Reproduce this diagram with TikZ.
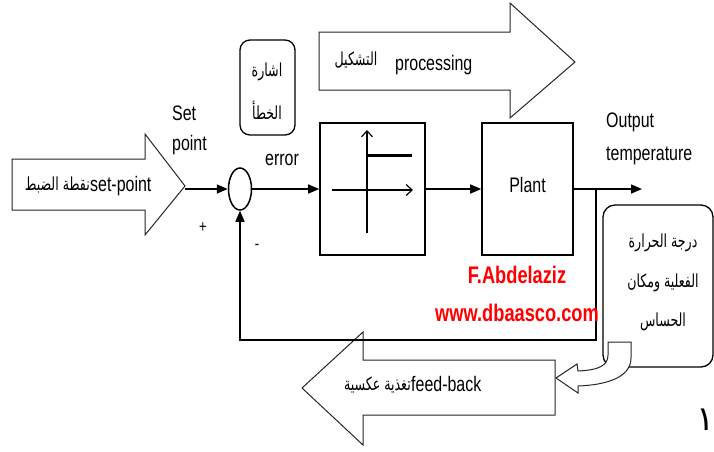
\documentclass[tikz,border=0pt]{standalone}
\usepackage{fontspec}
\setmainfont{Liberation Sans}[FakeStretch=0.76]
\newfontfamily\arfont[Script=Arabic,FakeStretch=0.7]{DejaVu Sans}
\newfontfamily\digitfont[Script=Arabic]{DejaVu Sans}
\TeXXeTstate=1
\usetikzlibrary{arrows.meta,shapes.geometric}
\tikzset{
  conn/.style={line width=1.5pt,-{Triangle[length=11pt,width=9pt]}},
  blockarrow/.style={draw=black!85,line width=1pt,fill=white,line join=miter},
  boxstyle/.style={draw,line width=1.6pt,inner sep=0},
  eng/.style={font=\fontsize{21}{25}\selectfont,inner sep=0},
  artext/.style={font=\arfont\fontsize{18}{20}\selectfont,inner sep=0},
  wm/.style={font=\fontsize{24}{28}\selectfont\bfseries,text=red,inner sep=0},
  sign/.style={font=\fontsize{17}{17}\selectfont,inner sep=0},
}
\begin{document}
\begin{tikzpicture}[x=1pt,y=-1pt]
\useasboundingbox (0,0) rectangle (714,451);
\fill[white] (0,0) rectangle (714,451);

% block arrows
\draw[blockarrow] (12,159) -- (145,159) -- (145,134) -- (185,186) -- (145,235) -- (145,210) -- (12,210) -- cycle;
\draw[blockarrow] (319,32) -- (510,32) -- (510,3) -- (575,62) -- (510,118) -- (510,90) -- (319,90) -- cycle;
\draw[blockarrow] (555,360) -- (363,360) -- (363,332) -- (302,388) -- (363,445) -- (363,415) -- (555,415) -- cycle;

% texts in block arrows
\node[artext,anchor=east] (spar) at (90,185) {\beginR نقطة الضبط\endR};
\node[eng,anchor=base west] (spen) at (spar.east |- 0,191) {set-point};
\node[artext] (procar) at (356,60) {\beginR التشكيل\endR};
\node[eng,anchor=base west] (procen) at (395,70) {processing};
\node[artext,anchor=east] (fbar) at (411,385) {\beginR تغذية عكسية\endR};
\node[eng,anchor=base west] (fben) at (fbar.east |- 0,391) {feed-back};

% sum junction and blocks
\coordinate (sptip) at (185,189);
\node[draw,ellipse,line width=1.5pt,minimum width=23pt,minimum height=42pt,inner sep=0] (sum) at (240,189) {};
\node[boxstyle,minimum width=105pt,minimum height=132pt] (ctrl) at (372.5,189) {};
\node[boxstyle,minimum width=91pt,minimum height=132pt] (plant) at (527.5,189) {};
\node[eng,anchor=base] (plantlbl) at (527.5,192) {Plant};

% controller symbol
\draw[line width=1.2pt,-{Straight Barb[length=6pt,width=11pt]}] (367,233) -- (367,130);
\draw[line width=1.2pt,-{Straight Barb[length=6pt,width=11pt]}] (332,190) -- (413,190);
\draw[line width=3pt] (367,155) -- (412,155);

% error box
\node[draw,rounded corners=10pt,line width=1.3pt,minimum width=55pt,minimum height=95pt] (errbox) at (267.5,87.5) {};
\node[artext] (err1) at (267,72) {\beginR اشارة\endR};
\node[artext] (err2) at (267,110) {\beginR الخطأ\endR};

% connectors
\coordinate (outend) at (642,189);
\coordinate (br) at (596,189);
\coordinate (fbc) at (240,340);
\draw[conn] (sptip) -- (sum.west);
\draw[conn] (sum.east) -- (ctrl.west);
\draw[conn] (ctrl.east) -- (plant.west);
\draw[conn] (plant.east) -- (outend);
\draw[conn] (br) |- (fbc) -- (sum.south);

% labels
\node[eng,anchor=base west] (setlbl) at (172,120) {Set};
\node[eng,anchor=base west] (pointlbl) at (172,150) {point};
\node[eng,anchor=base west] (errlbl) at (265,165) {error};
\node[eng,anchor=base west] (outlbl) at (606,127) {Output};
\node[eng,anchor=base west] (templbl) at (606,160) {temperature};
\node[sign] (plus) at (203,228) {+};
\node[sign] (minus) at (257,247) {-};

% sensor box
\node[draw,rounded corners=12pt,line width=1.3pt,minimum width=110pt,minimum height=162pt] (sensor) at (658,286) {};
\node[artext] (sen1) at (663,243) {\beginR درجة الحرارة\endR};
\node[artext] (sen2) at (663,283) {\beginR الفعلية ومكان\endR};
\node[artext] (sen3) at (663,322) {\beginR الحساس\endR};

% curved arrow from sensor to feed-back
\draw[blockarrow] (631,342) -- (631,358) .. controls (631,378) and (605,385) .. (578,386)
  -- (578,393) -- (556,378) -- (577,364) -- (578,371)
  .. controls (600,370) and (608,365) .. (608,355) -- (608,342) -- cycle;

% watermark
\node[wm] (wm1) at (517,275) {F.Abdelaziz};
\node[wm] (wm2) at (517,313) {www.dbaasco.com};

% page number
\node[font=\digitfont\fontsize{34}{34}\selectfont,inner sep=0] (pagenum) at (706,420) {١};
\end{tikzpicture}
\end{document}
